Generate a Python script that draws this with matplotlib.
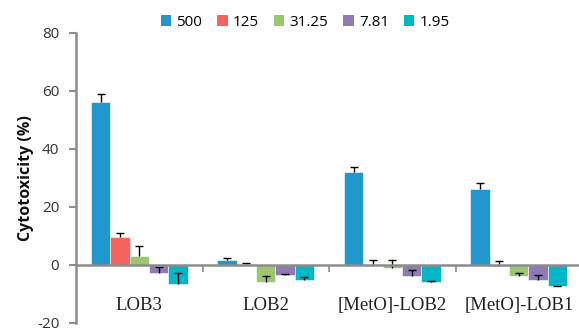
import numpy as np
import matplotlib
matplotlib.use("Agg")
import matplotlib.pyplot as plt
from matplotlib.patches import Patch

plt.rcParams["axes.unicode_minus"] = False

# Cytotoxicity (%) of four peptides at five concentrations
categories = ["LOB3", "LOB2", "[MetO]-LOB2", "[MetO]-LOB1"]
concentrations = ["500", "125", "31.25", "7.81", "1.95"]

values_500 = [56.1, 1.8, 32.2, 26.3]
values_125 = [9.6, 0.3, 0.1, -0.4]
values_31 = [3.1, -6.0, -0.9, -3.8]
values_7 = [-2.9, -3.4, -3.8, -5.3]
values_1 = [-6.6, -5.0, -6.0, -7.3]

errors_500 = [2.7, 0.7, 1.7, 2.1]
errors_125 = [1.3, 0.4, 1.5, 1.8]
errors_31 = [3.3, 2.1, 2.7, 1.2]
errors_7 = [2.1, 0.4, 2.0, 1.9]
errors_1 = [3.7, 1.0, 0.6, 0.2]

series = [values_500, values_125, values_31, values_7, values_1]
errors = [errors_500, errors_125, errors_31, errors_7, errors_1]
colors = ["#2098CE", "#F2645C", "#9BC86F", "#9079B4", "#00B7C8"]

fig = plt.figure(figsize=(5.79, 3.31), dpi=100)
ax = fig.add_axes([76 / 579, 8 / 331, 506 / 579, 290 / 331])

x = np.arange(len(categories))
bw = 0.153
for i, (vals, errs, c) in enumerate(zip(series, errors, colors)):
    pos = x + (i - 2) * bw
    ax.bar(pos, vals, width=bw, color=c, edgecolor="white", linewidth=0.4, zorder=2)
    # plus-direction error bars only: cap on the upper end
    eb = ax.errorbar(pos, vals, yerr=[np.zeros(len(errs)), errs], fmt="none",
                     ecolor="black", elinewidth=1.0, capsize=2.9, capthick=1.0, zorder=3)
    caplines = eb[1]
    if len(caplines) == 2:
        caplines[0].set_visible(False)

ax.set_ylim(-20, 80)
ax.set_xlim(-0.5, 3.5)
ax.set_yticks([-20, 0, 20, 40, 60, 80])
ax.tick_params(axis="y", direction="out", length=5, width=1.5, color="#8c8c8c",
               labelsize=11, labelcolor="#333333", pad=7)
for lab in ax.get_yticklabels():
    lab.set_fontfamily("Open Sans")

# category boundaries as ticks on the zero line, names below
ax.spines["bottom"].set_position(("data", 0))
ax.spines["bottom"].set_color("#8c8c8c")
ax.spines["bottom"].set_linewidth(1.8)
ax.spines["bottom"].set_zorder(4)
ax.spines["left"].set_color("#8c8c8c")
ax.spines["left"].set_linewidth(1.8)
ax.spines["top"].set_visible(False)
ax.spines["right"].set_visible(False)

ax.set_xticks(np.arange(0.5, 3.5, 1.0))
ax.set_xticklabels([])
ax.tick_params(axis="x", which="major", direction="out", length=5, width=1.2, color="#8c8c8c")
ax.set_xticks(x, minor=True)
ax.set_xticklabels(categories, minor=True, fontfamily="Liberation Serif",
                   fontsize=13.5, color="#222222")
ax.tick_params(axis="x", which="minor", length=0, pad=23)

ax.set_ylabel("Cytotoxicity (%)", fontfamily="Open Sans", fontweight="bold",
              fontsize=11.5, color="#111111", labelpad=2)

handles = [Patch(facecolor=c, edgecolor="none") for c in colors]
fig.legend(handles, concentrations, loc="upper center", bbox_to_anchor=(0.527, 0.99),
           ncol=5, frameon=False, handlelength=0.7, handleheight=0.7,
           handletextpad=0.35, columnspacing=0.95, borderaxespad=0.35,
           prop={"family": "Open Sans", "size": 11})

fig.savefig("out.png", dpi=100)
